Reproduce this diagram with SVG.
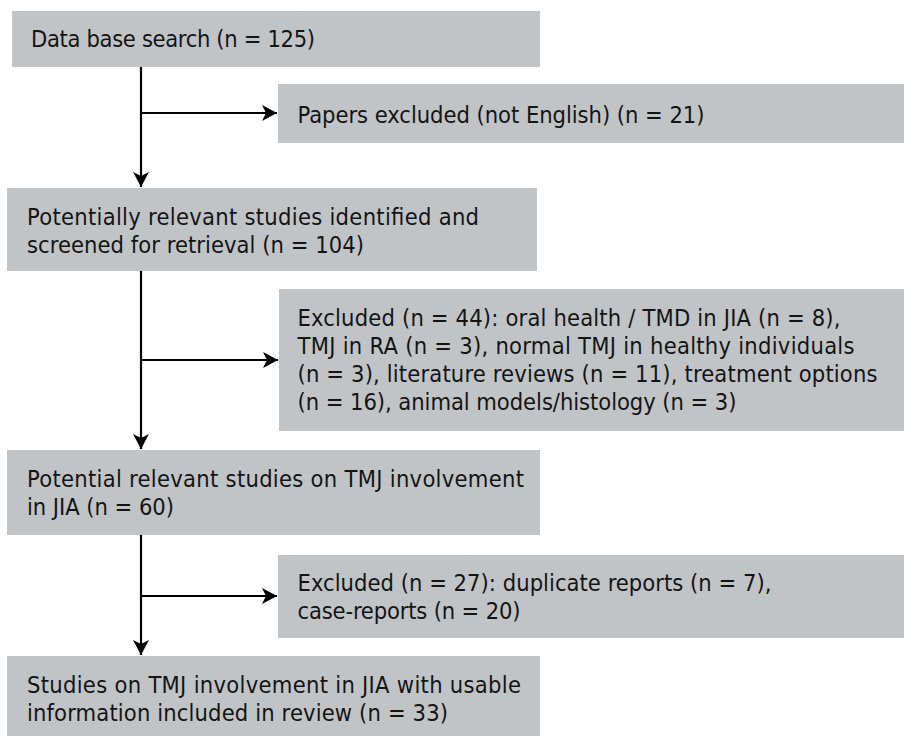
<svg xmlns="http://www.w3.org/2000/svg" width="904" height="736" viewBox="0 0 904 736">
<defs>
<style>
.box{fill:#c1c4c7;}
.t{font-family:"DejaVu Sans Condensed","DejaVu Sans",sans-serif;font-stretch:condensed;font-size:23.5px;fill:#141414;}
.ln{stroke:#000;stroke-width:2.2;fill:none;}
</style>
<marker id="ah" markerUnits="userSpaceOnUse" markerWidth="18" markerHeight="18" viewBox="-16 -9 18 18" refX="0" refY="0" orient="auto">
<path d="M0,0 L-15,-8 L-11,0 L-15,8 Z" fill="#000"/>
</marker>
</defs>
<rect width="904" height="736" fill="#fff"/>
<g id="connectors">
<path class="ln" d="M141,67 V187" marker-end="url(#ah)"/>
<path class="ln" d="M141,113 H277" marker-end="url(#ah)"/>
<path class="ln" d="M141,271 V449" marker-end="url(#ah)"/>
<path class="ln" d="M141,360 H278" marker-end="url(#ah)"/>
<path class="ln" d="M141,535 V655" marker-end="url(#ah)"/>
<path class="ln" d="M141,596 H277" marker-end="url(#ah)"/>
</g>
<g id="n1">
<rect class="box" x="12" y="11" width="528" height="56"/>
<text class="t" x="31" y="47" textLength="284">Data base search (n = 125)</text>
</g>
<g id="n2">
<rect class="box" x="278" y="84" width="626" height="59"/>
<text class="t" x="297.5" y="122.5" textLength="407">Papers excluded (not English) (n = 21)</text>
</g>
<g id="n3">
<rect class="box" x="7" y="188" width="530" height="83"/>
<text class="t" x="27" y="225" textLength="452">Potentially relevant studies identified and</text>
<text class="t" x="27" y="253" textLength="337">screened for retrieval (n = 104)</text>
</g>
<g id="n4">
<rect class="box" x="279" y="289" width="625" height="142"/>
<text class="t" x="297.5" y="326" textLength="543">Excluded (n = 44): oral health / TMD in JIA (n = 8),</text>
<text class="t" x="297.5" y="354" textLength="557">TMJ in RA (n = 3), normal TMJ in healthy individuals</text>
<text class="t" x="297.5" y="382" textLength="580">(n = 3), literature reviews (n = 11), treatment options</text>
<text class="t" x="297.5" y="410" textLength="439">(n = 16), animal models/histology (n = 3)</text>
</g>
<g id="n5">
<rect class="box" x="7" y="450" width="533" height="85"/>
<text class="t" x="27" y="487" textLength="497">Potential relevant studies on TMJ involvement</text>
<text class="t" x="27" y="515" textLength="147">in JIA (n = 60)</text>
</g>
<g id="n6">
<rect class="box" x="278" y="555" width="626" height="83"/>
<text class="t" x="297.5" y="591" textLength="474">Excluded (n = 27): duplicate reports (n = 7),</text>
<text class="t" x="297.5" y="619" textLength="223">case-reports (n = 20)</text>
</g>
<g id="n7">
<rect class="box" x="7" y="656" width="533" height="84"/>
<text class="t" x="27" y="692.5" textLength="494">Studies on TMJ involvement in JIA with usable</text>
<text class="t" x="27" y="720.5" textLength="421">information included in review (n = 33)</text>
</g>
</svg>
